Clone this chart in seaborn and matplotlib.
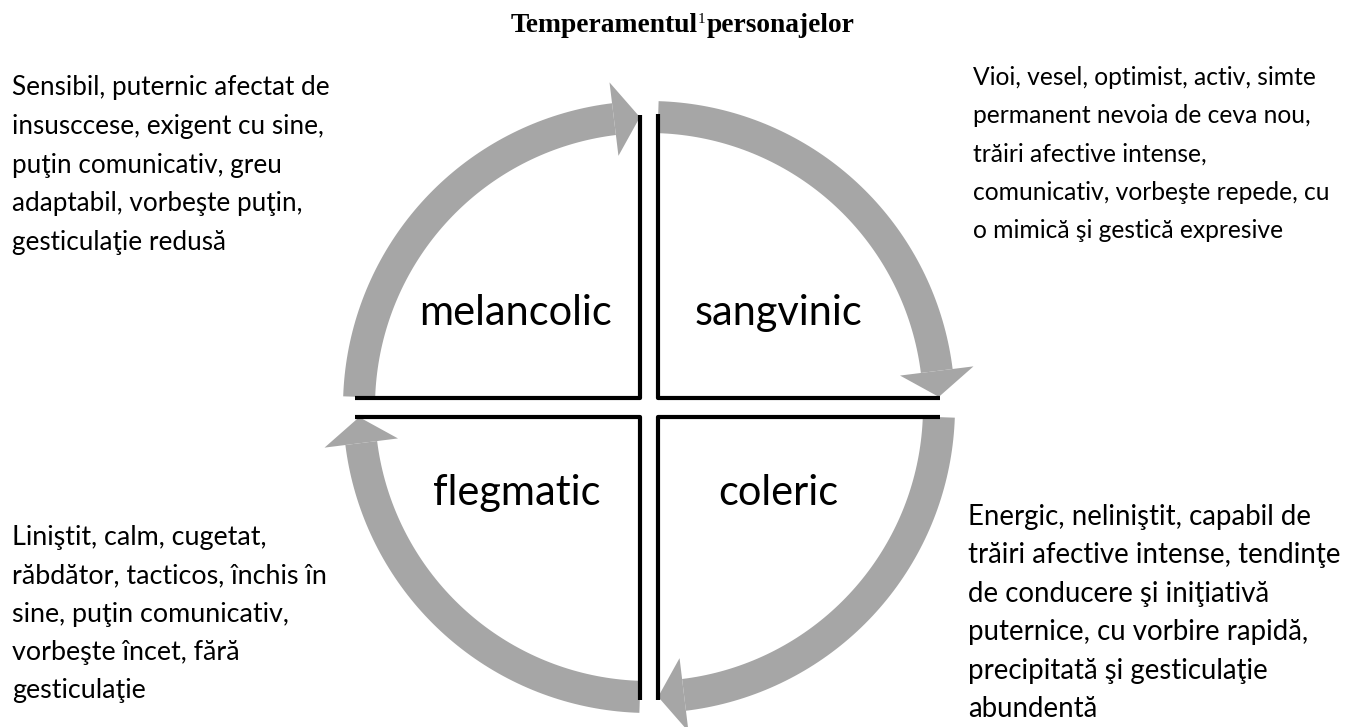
import numpy as np
import matplotlib
matplotlib.use("Agg")
import matplotlib.pyplot as plt
import seaborn as sns
import pandas as pd
from matplotlib.patches import Polygon, Rectangle

# ---------------- content ----------------
title_main = "Temperamentul"
title_sup = "1"
title_rest = "personajelor"

temperaments = ["melancolic", "sangvinic", "flegmatic", "coleric"]

desc_melancolic = ["Sensibil, puternic afectat de",
                   "insusccese, exigent cu sine,",
                   "puţin comunicativ, greu",
                   "adaptabil, vorbeşte puţin,",
                   "gesticulaţie redusă"]
desc_sangvinic = ["Vioi, vesel, optimist, activ, simte",
                  "permanent nevoia de ceva nou,",
                  "trăiri afective intense,",
                  "comunicativ, vorbeşte repede, cu",
                  "o mimică şi gestică expresive"]
desc_flegmatic = ["Liniştit, calm, cugetat,",
                  "răbdător, tacticos, închis în",
                  "sine, puţin comunicativ,",
                  "vorbeşte încet, fără",
                  "gesticulaţie"]
desc_coleric = ["Energic, neliniştit, capabil de",
                "trăiri afective intense, tendinţe",
                "de conducere şi iniţiativă",
                "puternice, cu vorbire rapidă,",
                "precipitată şi gesticulaţie",
                "abundentă"]

# ---------------- style ----------------
sns.set_theme(style="white")
plt.rcParams['font.family'] = ['Lato', 'DejaVu Sans']
SANS = ['Lato', 'DejaVu Sans']
SERIF = ['Liberation Serif', 'DejaVu Serif']
GRAY = "#a6a6a6"

W, H = 1347, 727
fig = plt.figure(figsize=(W / 100, H / 100), dpi=100)
ax = fig.add_axes([0, 0, 1, 1])
ax.set_xlim(0, W)
ax.set_ylim(H, 0)
ax.axis('off')
fig.patch.set_facecolor('white')

fig.canvas.draw()
renderer = fig.canvas.get_renderer()


def width_px(s, **kw):
    t = ax.text(0, 0, s, **kw)
    w = t.get_window_extent(renderer).width
    t.remove()
    return w


def fit(s, target, family, weight='normal'):
    w = width_px(s, fontsize=20, family=family, weight=weight)
    return 20 * target / w


# ---------------- circular arrows ----------------
cx, cy = 649, 407
R = 290
body_hw = 16
head_hw = 37
head_len = 26
arcs = [(88.2, 2.0), (-2.0, -88.2), (-91.8, -178.0), (178.0, 91.8)]


def pt(r, th):
    return cx + r * np.cos(np.radians(th)), cy - r * np.sin(np.radians(th))


for start, tip in arcs:
    dth = np.degrees(head_len / R)
    base = tip + dth if start > tip else tip - dth
    ths = np.linspace(start, base, 80)
    outer = [pt(R + body_hw, t) for t in ths]
    inner = [pt(R - body_hw, t) for t in ths[::-1]]
    ax.add_patch(Polygon(outer + inner, closed=True, facecolor=GRAY,
                         edgecolor='none', zorder=2))
    head = [pt(R + head_hw, base), pt(R, tip), pt(R - head_hw, base)]
    ax.add_patch(Polygon(head, closed=True, facecolor=GRAY,
                         edgecolor='none', zorder=2))

# ---------------- black L-shaped box edges ----------------
xl, xr = 640, 658
yt, yb = 398, 417
lines = pd.DataFrame({
    'box': ['tl'] * 3 + ['tr'] * 3 + ['bl'] * 3 + ['br'] * 3,
    'order': [0, 1, 2] * 4,
    'x': [xl, xl, 355, xr, xr, 940, xl, xl, 355, xr, xr, 940],
    'y': [115, yt, yt, 114, yt, yt, 700, yb, yb, 700, yb, yb],
})
sns.lineplot(data=lines, x='x', y='y', units='box', estimator=None,
             sort=False, color='black', lw=3.0, ax=ax, zorder=3,
             solid_joinstyle='round', solid_capstyle='butt', legend=False)
ax.set_xlim(0, W)
ax.set_ylim(H, 0)
ax.axis('off')

# ---------------- quadrant labels ----------------
lab_size = fit("melancolic", 193, SANS)
lab_pos = [(516, 325), (778, 325), (517, 505), (778, 505)]
for name, (x, y) in zip(temperaments, lab_pos):
    ax.text(x, y, name, fontsize=lab_size, family=SANS, ha='center',
            va='baseline', color='black', zorder=4)

# ---------------- descriptions ----------------
blocks = [
    (desc_melancolic, 12, 95, 38.8, ("Sensibil, puternic afectat de", 318)),
    (desc_sangvinic, 973, 85, 38.3, ("Vioi, vesel, optimist, activ, simte", 344)),
    (desc_flegmatic, 12, 545, 38.3, ("răbdător, tacticos, închis în", 316)),
    (desc_coleric, 968, 525, 38.4, ("trăiri afective intense, tendinţe", 374)),
]
clip = Rectangle((0, 0), 400, 260, transform=ax.transData, visible=False)
ax.add_patch(clip)
for i, (lines_txt, x0, y0, dy, (ref, tw)) in enumerate(blocks):
    fs = fit(ref, tw, SANS)
    for j, s in enumerate(lines_txt):
        t = ax.text(x0, y0 + j * dy, s, fontsize=fs, family=SANS,
                    ha='left', va='baseline', color='black', zorder=4)
        if i == 0:
            t.set_clip_path(clip)

# ---------------- title ----------------
tsize = fit(title_main + title_rest, 336, SERIF, weight='bold')
w1 = width_px(title_main, fontsize=tsize, family=SERIF, weight='bold')
w2 = width_px(title_rest, fontsize=tsize, family=SERIF, weight='bold')
ssize = tsize * 0.55
ws = width_px(title_sup, fontsize=ssize, family=SERIF)
total = w1 + ws + w2 + 1
x0 = 682.5 - total / 2
yb_t = 32
ax.text(x0, yb_t, title_main, fontsize=tsize, family=SERIF, weight='bold',
        ha='left', va='baseline', color='black')
ax.text(x0 + w1, yb_t - 9, title_sup, fontsize=ssize, family=SERIF,
        ha='left', va='baseline', color='black')
ax.text(x0 + w1 + ws + 1, yb_t, title_rest, fontsize=tsize, family=SERIF,
        weight='bold', ha='left', va='baseline', color='black')

fig.savefig("out.png", dpi=100, facecolor='white')
